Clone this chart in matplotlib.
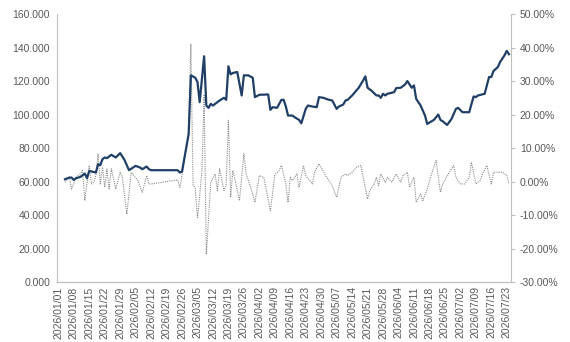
import matplotlib
matplotlib.use("Agg")
import matplotlib.pyplot as plt
import matplotlib.dates as mdates
from matplotlib.ticker import FuncFormatter
import pandas as pd

plt.rcParams['font.family'] = ['Liberation Sans', 'DejaVu Sans']

start = pd.Timestamp('2026-01-01')

# price line (left axis): day offset from 2026/01/01, value
price_day = [3, 5, 6, 7, 8, 10, 12, 13, 14, 17, 18, 19, 20, 21, 22, 24, 26, 28, 30, 32,
             35, 37, 38, 40, 41, 42, 54, 55, 56, 59, 60, 62, 63, 64, 66, 67, 68, 69, 70, 73,
             75, 76, 77, 78, 79, 81, 83, 84, 86, 88, 89, 91, 95, 96, 97, 99, 101, 102, 103, 104,
             106, 107, 109, 110, 112, 113, 115, 117, 118, 120, 122, 124, 126, 127, 129, 130, 131, 133, 136, 138,
             139, 140, 142, 144, 145, 146, 147, 148, 149, 152, 153, 155, 157, 158, 160, 161, 162, 164, 166, 167,
             170, 172, 173, 174, 176, 178, 180, 181, 183, 186, 188, 189, 190, 193, 195, 196, 197, 199, 200, 202,
             203, 204]
price = [61.4, 62.4, 62.4, 61.0, 62.0, 62.8, 64.8, 62.0, 66.4, 65.4, 70.4, 69.8, 73.4, 74.4, 74.0, 76.0, 74.4, 77.0, 72.8, 66.8,
         69.4, 68.4, 67.4, 69.0, 67.4, 66.8, 66.8, 65.4, 66.0, 88.4, 123.4, 122.0, 119.4, 107.4, 134.8, 105.4, 104.0, 106.4, 105.4, 108.4,
         110.0, 108.8, 128.8, 124.0, 124.8, 125.4, 111.4, 123.4, 123.4, 122.0, 110.4, 111.8, 112.0, 102.8, 104.4, 104.0, 108.8, 108.8, 104.8, 99.4,
         99.4, 98.4, 96.8, 94.8, 103.4, 105.4, 104.8, 104.4, 110.4, 110.0, 109.0, 108.4, 103.4, 104.8, 106.0, 108.4, 108.8, 111.4, 116.0, 120.4,
         122.8, 116.0, 114.0, 111.4, 111.4, 110.0, 112.4, 111.4, 112.4, 113.4, 115.8, 116.0, 118.0, 120.0, 116.0, 117.4, 109.4, 105.4, 99.4, 94.4,
         96.8, 100.0, 96.8, 96.0, 93.8, 97.4, 103.4, 104.0, 101.4, 101.4, 110.8, 110.4, 111.4, 112.4, 122.4, 122.4, 126.0, 128.4, 131.4, 135.4,
         138.0, 136.0]

# daily change line (right axis, %)
chg_day = [3, 5, 6, 8, 10, 11, 12, 14, 15, 16, 17, 18, 19, 20, 21, 22, 23, 24, 26, 28,
           29, 31, 33, 36, 38, 40, 41, 42, 54, 55, 56, 59, 60, 61, 62, 63, 65, 66, 67, 69,
           71, 72, 73, 75, 76, 77, 78, 79, 80, 82, 84, 85, 87, 89, 91, 93, 96, 98, 100, 101,
           103, 104, 105, 106, 108, 109, 111, 112, 115, 116, 118, 121, 124, 126, 128, 130, 131, 133, 135, 137,
           138, 140, 141, 143, 144, 145, 146, 148, 149, 151, 153, 155, 156, 158, 159, 161, 162, 164, 165, 167,
           169, 171, 173, 174, 177, 179, 180, 182, 184, 186, 187, 189, 191, 192, 194, 196, 197, 199, 201, 203,
           204]
chg = [-0.2, 1.3, -2.2, 1.3, 2.3, 3.3, -5.7, 4.8, -0.7, -0.2, 1.8, 8.3, -0.7, 4.3, -1.7, 3.8, -2.2, 3.8, -2.2, 2.8,
       1.3, -9.7, 2.8, 0.3, -3.2, 1.8, -0.7, -0.7, 0.5, -1.7, 1.8, 15.0, 41.0, -1.0, -2.0, -11.0, 3.0, 25.7, -21.8, -0.2,
       2.3, -2.7, 3.8, -2.7, -1.0, 18.3, -4.7, 3.3, 0.5, -5.7, 8.3, 2.3, -1.5, -6.2, 1.8, 1.3, -8.7, 2.0, 3.3, 4.8,
       -0.7, -6.2, 1.3, 0.3, 2.3, -1.7, 4.8, 1.8, -0.7, 2.8, 5.3, 1.8, -1.2, -4.7, 1.3, 2.3, 1.8, 2.8, 4.3, 4.8,
       1.3, -5.2, -2.7, -0.7, 1.3, -1.2, 2.3, -0.2, 1.3, -0.2, 2.3, -0.2, 1.8, 2.8, -1.7, 1.3, -6.2, -3.7, -5.7, -2.2,
       2.3, 6.3, -3.2, -0.7, 2.8, 4.8, 1.3, -0.7, -0.7, 1.3, 5.8, -0.7, 0.3, 2.3, 4.8, -0.7, 2.8, 2.8, 2.8, 1.8,
       -0.7]

price_dates = start + pd.to_timedelta(price_day, unit='D')
chg_dates = start + pd.to_timedelta(chg_day, unit='D')
ticks = pd.date_range('2026-01-01', '2026-07-23', freq='7D')

txt = '#595959'
spine = '#bfbfbf'

fig = plt.figure(figsize=(5.7, 3.42), dpi=100)
ax = fig.add_axes([0.1, 0.175, 0.796, 0.784])
ax2 = ax.twinx()

# dotted daily change behind the price line
ax2.plot(chg_dates, chg, color='#8c8c8c', linestyle=(0, (1, 1)), linewidth=0.8)
ax.plot(price_dates, price, color='#1f3f66', linewidth=1.6)
ax.set_zorder(ax2.get_zorder() + 1)
ax.patch.set_visible(False)

ax.set_ylim(0, 160)
ax.set_yticks(range(0, 161, 20))
ax.yaxis.set_major_formatter(FuncFormatter(lambda v, p: f'{v:.3f}'))
ax2.set_ylim(-30, 50)
ax2.set_yticks(range(-30, 51, 10))
ax2.yaxis.set_major_formatter(FuncFormatter(lambda v, p: f'{v:.2f}%'))

ax.set_xlim(start - pd.Timedelta(days=0.6), start + pd.Timedelta(days=204.8))
ax.set_xticks(ticks)
ax.xaxis.set_major_formatter(mdates.DateFormatter('%Y/%m/%d'))
for lbl in ax.get_xticklabels():
    lbl.set_rotation(90)

for a in (ax, ax2):
    a.spines['top'].set_visible(False)
    for s in ('left', 'right', 'bottom'):
        a.spines[s].set_color(spine)
    a.tick_params(colors=txt, labelsize=7.5, length=3, width=0.8, color=spine)
ax.spines['right'].set_visible(False)
ax2.spines['left'].set_visible(False)
ax.tick_params(axis='x', length=0, pad=3)
ax.tick_params(axis='y', length=0, pad=5)

fig.savefig('out.png', dpi=100)
